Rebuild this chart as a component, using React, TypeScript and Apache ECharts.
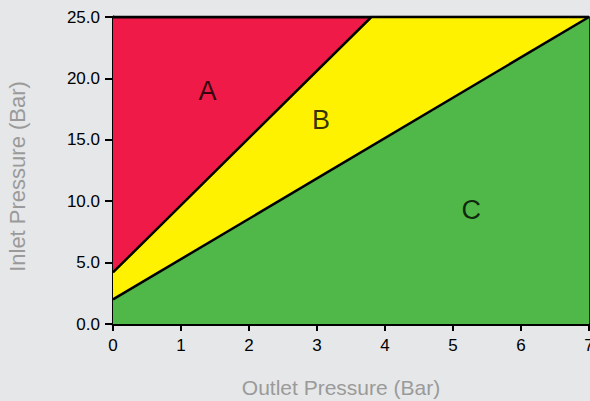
import React, { useEffect, useRef } from "react";
import * as echarts from "echarts";

const xTicks = [0, 1, 2, 3, 4, 5, 6, 7];
const yTicks = [0, 5, 10, 15, 20, 25];
const zoneTop: [number, number][] = [[0, 25], [7, 25]];
const lineAB: [number, number][] = [[0, 4.2], [3.8, 25], [7, 25]];
const lineBC: [number, number][] = [[0, 2.0], [7, 25]];
const zoneLabels = [
  { name: "A", value: [1.39, 19.0] },
  { name: "B", value: [3.06, 16.6] },
  { name: "C", value: [5.27, 9.3] },
];

const FONT = "'Liberation Sans', Arial, Helvetica, sans-serif";

export default function App() {
  const ref = useRef<HTMLDivElement>(null);
  useEffect(() => {
    document.body.style.margin = "0";
    const chart = echarts.init(ref.current!, null, { renderer: "svg" });
    chart.setOption({
      animation: false,
      backgroundColor: "#e6e7e8",
      textStyle: { fontFamily: FONT },
      grid: { left: 113, top: 17, width: 476, height: 307, containLabel: false, outerBoundsMode: "none" },
      xAxis: {
        type: "value",
        min: xTicks[0],
        max: xTicks[xTicks.length - 1],
        interval: 1,
        name: "Outlet Pressure (Bar)",
        nameLocation: "middle",
        nameGap: 53,
        nameTextStyle: { color: "#9a9a9a", fontSize: 21, fontFamily: FONT, padding: [0, 20, 0, 0] },
        axisLine: { show: true, onZero: false, lineStyle: { color: "#000", width: 3 } },
        axisTick: { show: true, length: 7, lineStyle: { color: "#000", width: 2 } },
        axisLabel: { color: "#000", fontSize: 17, margin: 13, fontFamily: FONT, showMaxLabel: true },
        splitLine: { show: false },
      },
      yAxis: [
        {
          type: "value",
          min: yTicks[0],
          max: yTicks[yTicks.length - 1],
          interval: 5,
          name: "Inlet Pressure (Bar)",
          nameLocation: "middle",
          nameGap: 84,
          nameTextStyle: { color: "#9a9a9a", fontSize: 22, fontFamily: FONT, padding: [0, 12, 1, 0] },
          axisLine: { show: true, onZero: false, lineStyle: { color: "#000", width: 3 } },
          axisTick: { show: true, length: 8, lineStyle: { color: "#000", width: 2 } },
          axisLabel: {
            color: "#000",
            fontSize: 17,
            margin: 13,
            fontFamily: FONT,
            formatter: (v: number) => v.toFixed(1),
          },
          splitLine: { show: false },
        },
        {
          type: "value",
          position: "right",
          min: yTicks[0],
          max: yTicks[yTicks.length - 1],
          interval: 5,
          axisLine: { show: true, onZero: false, lineStyle: { color: "#2a2a2a", width: 2 } },
          axisTick: { show: false },
          axisLabel: { show: false },
          splitLine: { show: false },
        },
      ],
      series: [
        {
          type: "line",
          data: zoneTop,
          z: 1,
          symbol: "none",
          lineStyle: { color: "#000", width: 3 },
          areaStyle: { color: "#f01a48", opacity: 1, origin: "start" },
        },
        {
          type: "line",
          data: lineAB,
          z: 2,
          symbol: "none",
          lineStyle: { color: "#000", width: 2.5 },
          areaStyle: { color: "#fff200", opacity: 1, origin: "start" },
        },
        {
          type: "line",
          data: lineBC,
          z: 3,
          symbol: "none",
          lineStyle: { color: "#000", width: 2.5 },
          areaStyle: { color: "#50b848", opacity: 1, origin: "start" },
        },
        {
          type: "scatter",
          z: 5,
          symbolSize: 0,
          data: zoneLabels,
          label: {
            show: true,
            position: "inside",
            formatter: (p: any) => p.name,
            color: "#000",
            fontSize: 27,
            fontFamily: FONT,
          },
        },
      ],
    });
    return () => chart.dispose();
  }, []);
  return <div ref={ref} style={{ width: 590, height: 401, position: "absolute", left: 0, top: 0 }} />;
}
